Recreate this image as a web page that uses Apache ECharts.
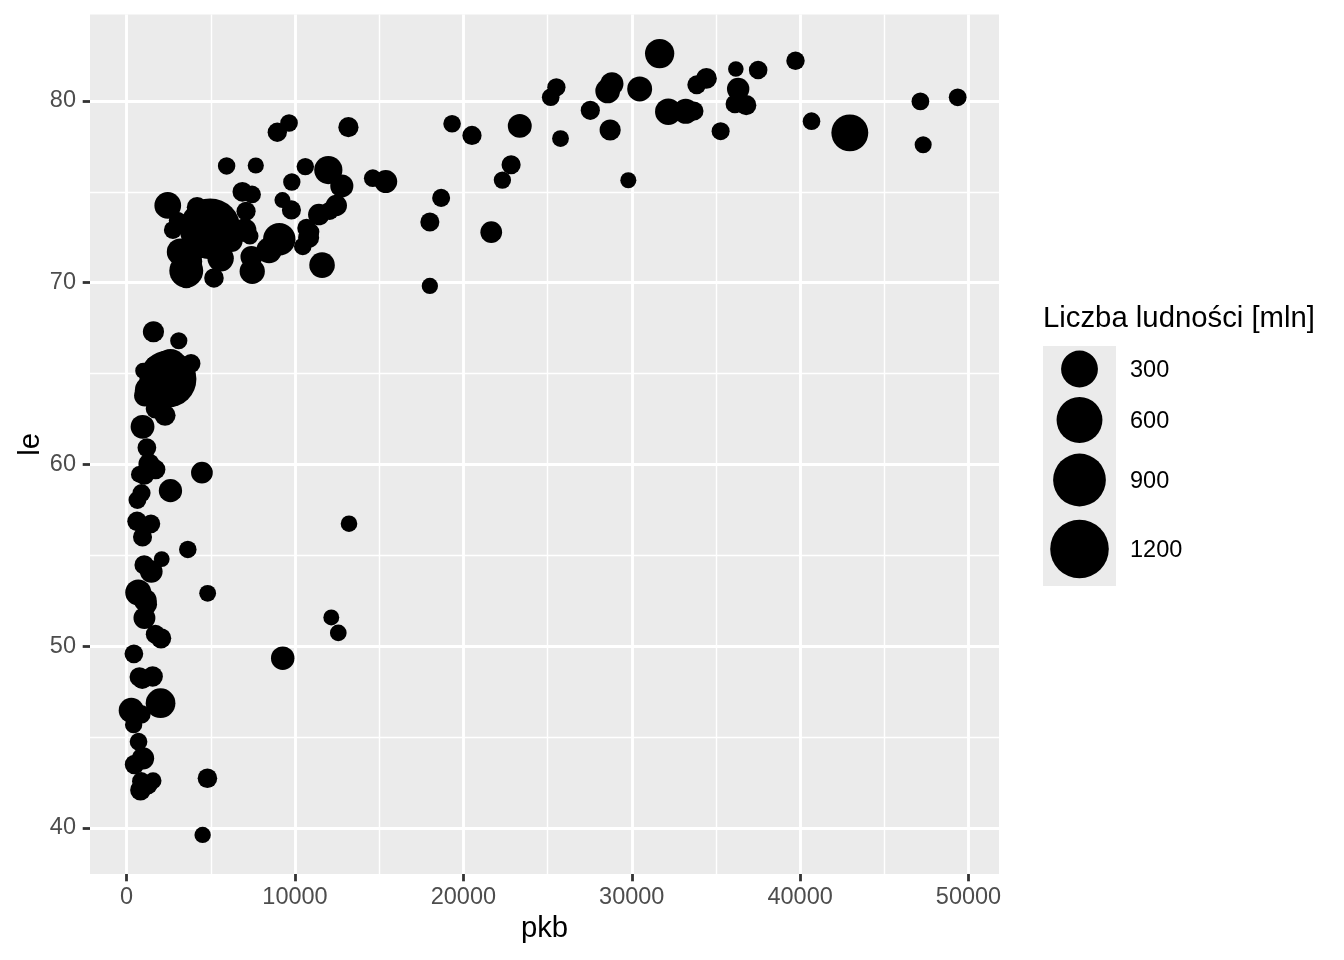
<!DOCTYPE html>
<html><head><meta charset="utf-8">
<script src="https://cdn.jsdelivr.net/npm/echarts@6/dist/echarts.min.js"></script>
<style>html,body{margin:0;padding:0;background:#fff}#c{width:1344px;height:960px}</style>
</head><body><div id="c"></div><script>
// GDP per capita (pkb), life expectancy (le), population in millions (pop)
const pkb = [974.58,5937.03,6223.37,4797.23,12779.38,34435.37,36126.49,29796.05,1391.25,33692.61,
1441.28,3822.14,7446.30,12569.85,9065.80,10680.79,1217.03,430.07,1713.78,2042.10,
36319.24,706.02,1704.06,13171.64,4959.11,7006.58,986.15,277.55,3632.56,9645.06,
1544.75,14619.22,8948.10,22833.31,35278.42,2082.48,6025.37,6873.26,5581.18,5728.35,
12154.09,641.37,690.81,33207.08,30470.02,13206.48,752.75,32170.37,1327.61,27538.41,
5186.05,942.65,579.23,1201.64,3548.33,39724.98,18008.94,36180.79,2452.21,3540.65,
11605.71,4471.06,40676.00,25523.28,28569.72,7320.88,31656.07,4519.46,1463.25,1593.07,
23348.14,47306.99,10461.06,1569.33,414.51,12057.50,1044.77,759.35,12451.66,1042.58,
1803.15,10956.99,11977.58,3095.77,9253.90,3820.18,823.69,944.00,4811.06,1091.36,
36797.93,25185.01,2749.32,619.68,2013.98,49357.19,22316.19,2605.95,9809.19,4172.84,
7408.91,3190.48,15389.92,20509.65,19328.71,7670.12,10808.48,863.09,1598.44,21654.83,
1712.47,9786.53,862.54,47143.18,18678.31,25768.26,926.14,9269.66,28821.06,3970.10,
2602.40,4513.48,33859.75,37506.42,4184.55,28718.28,1107.48,7458.40,882.97,18008.51,
7092.92,8458.28,1056.38,33203.26,42951.65,10611.46,11415.81,2441.58,3025.35,2280.77,
1271.21,469.71];
const le = [43.828,76.423,72.301,42.731,75.320,81.235,79.829,75.635,64.062,79.441,
56.728,65.554,74.852,50.728,72.390,73.005,52.295,49.580,59.723,50.430,
80.653,44.741,50.651,78.553,72.961,72.889,65.152,46.462,55.322,78.782,
48.328,75.748,78.273,76.486,78.332,54.791,72.235,74.994,71.338,71.878,
51.579,58.040,52.947,79.313,80.657,56.735,59.448,79.406,60.022,79.483,
70.259,56.007,46.388,60.916,70.198,82.208,73.338,81.757,64.698,70.650,
70.964,59.545,78.885,80.745,80.546,72.567,82.603,72.535,54.110,67.297,
78.623,77.588,71.993,42.592,45.678,73.952,59.443,48.303,74.241,54.467,
64.164,72.801,76.195,66.803,74.543,71.164,42.082,62.069,52.906,63.785,
79.762,80.204,72.899,56.867,46.859,80.196,75.640,65.483,75.537,71.752,
71.421,71.688,75.563,78.098,78.746,76.442,72.476,46.242,65.528,72.777,
63.062,74.002,42.568,79.972,74.663,77.926,48.159,49.339,80.941,72.396,
58.556,39.613,80.884,81.701,74.143,78.400,52.517,70.616,58.420,69.819,
73.923,71.777,51.542,79.425,78.242,76.384,73.747,74.249,73.422,62.698,
42.384,43.487];
const pop = [31.889923,3.600523,33.333216,12.420476,40.301927,20.434176,8.199783,0.708573,150.448339,10.392226,
8.078314,9.119152,4.552198,1.639131,190.010647,7.322858,14.326203,8.390505,14.131858,17.696293,
33.390141,4.369038,10.238807,16.284741,1318.683096,44.227550,0.710960,64.606759,3.800610,4.133884,
18.013409,4.493312,11.416987,10.228744,5.468120,0.496374,9.319622,13.755680,80.264543,6.939688,
0.551201,4.906585,76.511887,5.238460,61.083916,1.454867,1.688359,82.400996,22.873338,10.706290,
12.572928,9.947814,1.472041,8.502814,7.483763,6.980412,9.956108,0.301931,1110.396331,223.547000,
69.453570,27.499638,4.109086,6.426679,58.147733,2.780132,127.467972,6.053193,35.610177,23.301725,
49.044790,2.505559,3.921278,2.012649,3.193942,6.036914,19.167654,13.327079,24.821286,12.031795,
3.270065,1.250882,108.700891,2.874127,0.684736,33.757175,19.951656,47.761980,2.055080,28.901790,
16.570613,4.115771,5.675356,12.894865,135.031164,4.627926,3.204897,169.270617,3.242173,6.667147,
28.674757,91.077287,38.518241,10.642836,3.942491,0.798094,22.276056,8.860588,0.199579,27.601038,
12.267493,10.150265,6.144562,4.553009,5.447502,2.009245,9.118773,43.997828,40.448191,20.378239,
42.292929,1.133066,9.031088,7.554661,19.314747,23.174294,38.139640,65.068149,5.701579,1.056608,
10.276158,71.158647,29.170398,60.776238,301.139947,3.447496,26.084662,85.262356,4.018332,22.211743,
11.746035,12.311143];
const xTicks = [0, 10000, 20000, 30000, 40000, 50000];
const yTicks = [40, 50, 60, 70, 80];
const legendBreaks = [300, 600, 900, 1200];
const legendTitle = 'Liczba ludności [mln]';

const FONT = "'Liberation Sans', Arial, Helvetica, sans-serif";
// panel in pixels
const PL = 90, PR = 999, PT = 14.5, PB = 874;
function expand(arr){const mn=Math.min(...arr), mx=Math.max(...arr), r=mx-mn; return [mn-0.05*r, mx+0.05*r];}
const [xmin, xmax] = expand(pkb);
const [ymin, ymax] = expand(le);
const px = v => PL + (v - xmin) / (xmax - xmin) * (PR - PL);
const py = v => PB - (v - ymin) / (ymax - ymin) * (PB - PT);
const pmin = Math.min(...pop), pmax = Math.max(...pop);
// size scale: diameter in px, area-proportional
const sz = p => 15.16 + 45.52 * Math.sqrt(Math.max(0, (p - pmin) / (pmax - pmin)));

const gx0 = px(xTicks[0]), gx1 = px(xTicks[xTicks.length-1]);
const gy0 = py(yTicks[yTicks.length-1]), gy1 = py(yTicks[0]);

const data = pkb.map((x, i) => [x, le[i], pop[i]]);

const option = {
  animation: false,
  backgroundColor: '#fff',
  textStyle: {fontFamily: FONT},
  grid: [
    {left: PL, top: PT, width: PR-PL, height: PB-PT, show: true, backgroundColor: '#EBEBEB', borderWidth: 0},
    {left: gx0, top: PT, width: gx1-gx0, height: PB-PT, show: false},
    {left: PL, top: gy0, width: PR-PL, height: gy1-gy0, show: false}
  ],
  xAxis: [
    {gridIndex:0, type:'value', min:xmin, max:xmax, show:true,
     axisLine:{show:false}, axisTick:{show:false}, axisLabel:{show:false}, splitLine:{show:false},
     name:'pkb', nameLocation:'middle', nameGap:40,
     nameTextStyle:{fontSize:29.3, color:'#000', fontFamily:FONT}},
    {gridIndex:1, type:'value', min:xTicks[0], max:xTicks[xTicks.length-1], interval:10000, z:1,
     axisLine:{show:false},
     axisTick:{show:true, length:7.3, lineStyle:{color:'#333333', width:2.8}},
     axisLabel:{color:'#4D4D4D', fontSize:23.5, margin:12, fontFamily:FONT, formatter: v => String(v)},
     splitLine:{show:true, lineStyle:{color:'#FFFFFF', width:2.85}},
     minorTick:{show:false, splitNumber:2},
     minorSplitLine:{show:true, lineStyle:{color:'#FFFFFF', width:1.42}}},
    {gridIndex:2, type:'value', show:false, min:0, max:1}
  ],
  yAxis: [
    {gridIndex:0, type:'value', min:ymin, max:ymax, show:true,
     axisLine:{show:false}, axisTick:{show:false}, axisLabel:{show:false}, splitLine:{show:false},
     name:'le', nameLocation:'middle', nameGap:45, nameRotate:90,
     nameTextStyle:{fontSize:29.3, color:'#000', fontFamily:FONT}},
    {gridIndex:1, type:'value', show:false, min:0, max:1},
    {gridIndex:2, type:'value', min:yTicks[0], max:yTicks[yTicks.length-1], interval:10, z:1,
     axisLine:{show:false},
     axisTick:{show:true, length:7.3, lineStyle:{color:'#333333', width:2.8}},
     axisLabel:{color:'#4D4D4D', fontSize:23.5, margin:14, fontFamily:FONT, formatter: v => String(v)},
     splitLine:{show:true, lineStyle:{color:'#FFFFFF', width:2.85}},
     minorTick:{show:false, splitNumber:2},
     minorSplitLine:{show:true, lineStyle:{color:'#FFFFFF', width:1.42}}}
  ],
  series: [{
    type:'scatter', xAxisIndex:0, yAxisIndex:0, z:5,
    data: data,
    symbol:'circle',
    symbolSize: v => sz(v[2]),
    itemStyle:{color:'#000000', opacity:1},
    emphasis:{disabled:true},
    silent:true
  }],
  graphic: []
};

// legend
const g = option.graphic;
g.push({type:'text', x:1043, y:319, z:10,
  style:{text:legendTitle, fontSize:29.3, fontFamily:FONT, fill:'#000', verticalAlign:'middle', align:'left', textVerticalAlign:'middle'}});
g.push({type:'rect', shape:{x:1043, y:346, width:73, height:240}, style:{fill:'#EBEBEB'}, z:10});
const centers = [369, 420, 480, 549];
legendBreaks.forEach((b, i) => {
  g.push({type:'circle', shape:{cx:1079.5, cy:centers[i], r:sz(b)/2}, style:{fill:'#000'}, z:11});
  g.push({type:'text', x:1130, y:centers[i] + 2, z:11,
    style:{text:String(b), fontSize:23.5, fontFamily:FONT, fill:'#000', verticalAlign:'middle', align:'left', textVerticalAlign:'middle'}});
});

const chart = echarts.init(document.getElementById('c'), null, {renderer:'canvas'});
chart.setOption(option);
</script></body></html>
